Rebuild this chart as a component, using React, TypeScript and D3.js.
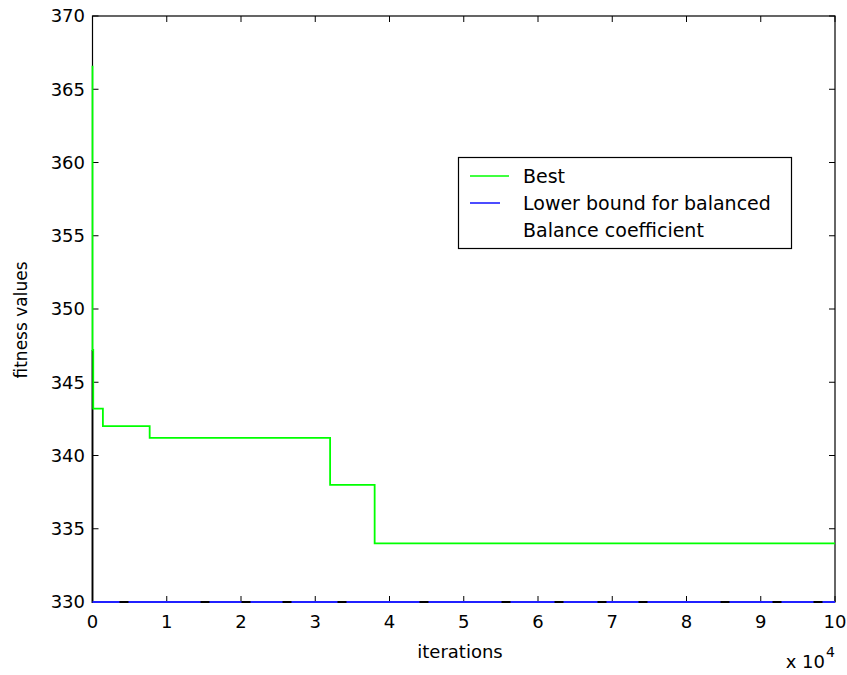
import React, { useEffect, useRef } from "react";
import * as d3 from "d3";

// Data (iterations in raw units; x axis shown in units of 10^4)
const bestIter = [0, 0, 100, 1400, 7700, 32000, 38000, 100000];
const bestFit = [366.6, 347.2, 343.2, 342.0, 341.2, 338.0, 334.0, 334.0];
const balanceIter = [0, 0, 100000];
const balanceFit = [347.2, 330, 330];
const lowerIter = [0, 100000];
const lowerFit = [330, 330];
const xTicks = [0, 1, 2, 3, 4, 5, 6, 7, 8, 9, 10];
const yTicks = [330, 335, 340, 345, 350, 355, 360, 365, 370];
const legendLabels = ["Best", "Lower bound for balanced", "Balance coefficient"];
const legendColors = ["#00ff00", "#2020ff", "none"];

const W = 847;
const H = 675;
const M = { left: 92.5, right: 835, top: 16, bottom: 602 };
const FONT = "'DejaVu Sans', sans-serif";

export default function App() {
  const ref = useRef<SVGSVGElement>(null);
  useEffect(() => {
    const svg = d3.select(ref.current);
    svg.selectAll("*").remove();
    const x = d3.scaleLinear().domain([0, 10]).range([M.left, M.right]);
    const y = d3.scaleLinear().domain([330, 370]).range([M.bottom, M.top]);
    svg.append("rect").attr("width", W).attr("height", H).attr("fill", "#fff");

    const g = svg.append("g");
    const line = (xs: number[], ys: number[], curve: any) =>
      d3
        .line<number>()
        .x((_, i) => x(xs[i] / 1e4))
        .y((d) => y(d))
        .curve(curve)(ys);

    // axes box
    g.append("rect")
      .attr("x", M.left)
      .attr("y", M.top)
      .attr("width", M.right - M.left)
      .attr("height", M.bottom - M.top)
      .attr("fill", "none")
      .attr("stroke", "#000")
      .attr("stroke-width", 1.2);

    // ticks (inside, all four sides)
    const tl = 6;
    xTicks.forEach((t) => {
      g.append("line").attr("x1", x(t)).attr("x2", x(t)).attr("y1", M.bottom).attr("y2", M.bottom - tl).attr("stroke", "#000");
      g.append("line").attr("x1", x(t)).attr("x2", x(t)).attr("y1", M.top).attr("y2", M.top + tl).attr("stroke", "#000");
      g.append("text")
        .attr("x", x(t))
        .attr("y", 628)
        .attr("text-anchor", "middle")
        .attr("font-family", FONT)
        .attr("font-size", 18)
        .attr("fill", "#000")
        .text(t);
    });
    yTicks.forEach((t) => {
      g.append("line").attr("x1", M.left).attr("x2", M.left + tl).attr("y1", y(t)).attr("y2", y(t)).attr("stroke", "#000");
      g.append("line").attr("x1", M.right).attr("x2", M.right - tl).attr("y1", y(t)).attr("y2", y(t)).attr("stroke", "#000");
      g.append("text")
        .attr("x", 85)
        .attr("y", y(t))
        .attr("dy", "0.36em")
        .attr("text-anchor", "end")
        .attr("font-family", FONT)
        .attr("font-size", 18)
        .attr("fill", "#000")
        .text(t);
    });

    g.append("path")
      .attr("d", line(balanceIter, balanceFit, d3.curveLinear))
      .attr("fill", "none")
      .attr("stroke", "#000")
      .attr("stroke-width", 1.8);

    g.append("path")
      .attr("d", line(lowerIter, lowerFit, d3.curveLinear))
      .attr("fill", "none")
      .attr("stroke", legendColors[1])
      .attr("stroke-width", 2)
      .attr("stroke-dasharray", "27 9 72 9 32 9 32 9 46 9 73 9 73 9 44 9 34 9 32 9 73 9 43 9 32 9 40 0");

    g.append("path")
      .attr("d", line(bestIter, bestFit, d3.curveStepAfter))
      .attr("fill", "none")
      .attr("stroke", legendColors[0])
      .attr("stroke-width", 1.8);

    // labels
    g.append("text")
      .attr("x", 460)
      .attr("y", 658)
      .attr("text-anchor", "middle")
      .attr("font-family", FONT)
      .attr("font-size", 18)
      .text("iterations");
    g.append("text")
      .attr("transform", "translate(27,320) rotate(-90)")
      .attr("text-anchor", "middle")
      .attr("font-family", FONT)
      .attr("font-size", 17)
      .text("fitness values");
    g.append("text")
      .attr("x", 825)
      .attr("y", 668)
      .attr("text-anchor", "end")
      .attr("font-family", FONT)
      .attr("font-size", 18)
      .text("x 10");
    g.append("text")
      .attr("x", 826)
      .attr("y", 657)
      .attr("font-family", FONT)
      .attr("font-size", 14)
      .text("4");

    // legend
    const lg = g.append("g");
    lg.append("rect")
      .attr("x", 458.5)
      .attr("y", 157.5)
      .attr("width", 333)
      .attr("height", 91)
      .attr("fill", "#fff")
      .attr("stroke", "#000")
      .attr("stroke-width", 1.2);
    const rowY = [176, 203, 230];
    const sampleEnd = [509, 500, 509];
    legendLabels.forEach((lab, i) => {
      if (legendColors[i] !== "none") {
        lg.append("line")
          .attr("x1", 470)
          .attr("x2", sampleEnd[i])
          .attr("y1", rowY[i])
          .attr("y2", rowY[i])
          .attr("stroke", legendColors[i])
          .attr("stroke-width", 1.6);
      }
      lg.append("text")
        .attr("x", 523)
        .attr("y", rowY[i])
        .attr("dy", "0.36em")
        .attr("font-family", FONT)
        .attr("font-size", 19)
        .text(lab);
    });
  }, []);
  return (
    <svg
      ref={ref}
      width={W}
      height={H}
      style={{ position: "absolute", left: 0, top: 0, display: "block" }}
    />
  );
}
